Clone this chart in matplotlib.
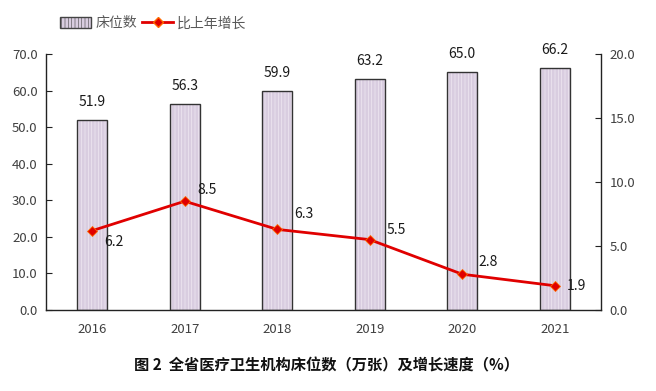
import matplotlib
matplotlib.use("Agg")
import matplotlib.pyplot as plt
from matplotlib.patches import Patch
from matplotlib.lines import Line2D

plt.rcParams['font.family'] = ['Noto Sans CJK SC', 'DejaVu Sans']
plt.rcParams['hatch.linewidth'] = 0.4

years = ['2016', '2017', '2018', '2019', '2020', '2021']
beds = [51.9, 56.3, 59.9, 63.2, 65.0, 66.2]
growth = [6.2, 8.5, 6.3, 5.5, 2.8, 1.9]
# label offsets (points) for growth labels
g_off = [(9, -8), (9, 8), (12, 11), (12, 7), (12, 9), (9, 0)]

fig = plt.figure(figsize=(6.56, 3.91), dpi=100)
ax = fig.add_axes([0.0701, 0.207, 0.846, 0.655])
x = list(range(len(years)))
bw = 0.32
ax.bar(x, beds, width=bw, color='#d9cde0', edgecolor='#f4eef6', hatch='|||||', linewidth=0, zorder=2)
ax.bar(x, beds, width=bw, fill=False, edgecolor='#333333', linewidth=1.0, zorder=3)
for xi, v in zip(x, beds):
    ax.annotate(f'{v:.1f}', (xi, v), xytext=(0, 13), textcoords='offset points',
                ha='center', va='center', fontsize=10, color='#1a1a1a')
ax.set_ylim(0, 70)
ax.set_xlim(-0.5, len(years) - 0.5)
ax.set_yticks([0, 10, 20, 30, 40, 50, 60, 70])
ax.set_yticklabels([f'{t:.1f}' for t in [0, 10, 20, 30, 40, 50, 60, 70]])
ax.set_xticks(x)
ax.set_xticklabels(years)
ax.tick_params(axis='y', direction='in', length=4, labelsize=9.5, labelcolor='#404040', color='#222222', pad=6)
ax.tick_params(axis='x', length=0, labelsize=9.5, labelcolor='#404040', pad=9)
ax.spines['top'].set_visible(False)
ax.spines['right'].set_visible(False)
for s in ['left', 'bottom']:
    ax.spines[s].set_color('#222222')
    ax.spines[s].set_linewidth(1.0)

ax2 = ax.twinx()
ax2.plot(x, growth, color='#e00000', linewidth=2, marker='D', markersize=5,
         markerfacecolor='#e00000', markeredgecolor='#ff6a00', markeredgewidth=0.6, zorder=5)
for xi, v, (dx, dy) in zip(x, growth, g_off):
    ax2.annotate(f'{v:.1f}', (xi, v), xytext=(dx, dy), textcoords='offset points',
                 ha='left', va='center', fontsize=10, color='#1a1a1a')
ax2.set_ylim(0, 20)
ax2.set_yticks([0, 5, 10, 15, 20])
ax2.set_yticklabels([f'{t:.1f}' for t in [0, 5, 10, 15, 20]])
ax2.tick_params(axis='y', direction='in', length=4, labelsize=9.5, labelcolor='#404040', color='#222222', pad=6)
ax2.spines['top'].set_visible(False)
ax2.spines['left'].set_visible(False)
ax2.spines['bottom'].set_visible(False)
ax2.spines['right'].set_color('#222222')
ax2.spines['right'].set_linewidth(1.0)

handles = [Patch(facecolor='#d9cde0', edgecolor='#444444', hatch='|||||', linewidth=1.0),
           Line2D([0], [0], color='#e00000', linewidth=2, marker='D', markersize=5,
                  markerfacecolor='#e00000', markeredgecolor='#ff6a00')]
leg = fig.legend(handles, ['床位数', '比上年增长'], loc='center left', bbox_to_anchor=(0.073, 0.94),
                 ncol=2, frameon=False, fontsize=10, handlelength=2.2, handleheight=0.9,
                 columnspacing=0.4, handletextpad=0.3)
for t in leg.get_texts():
    t.set_color('#595959')

fig.text(0.497, 0.066, '图 2  全省医疗卫生机构床位数（万张）及增长速度（%）', ha='center', va='center',
         fontsize=11, fontweight='bold', color='#111111')

fig.savefig('out.png', dpi=100)
